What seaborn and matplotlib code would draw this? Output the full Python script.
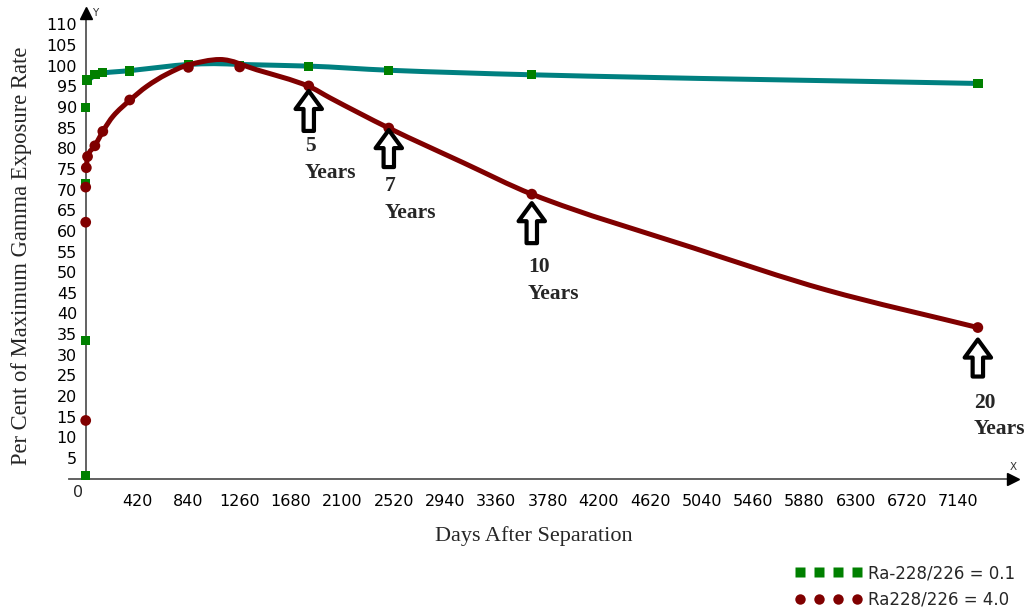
import numpy as np
import matplotlib
matplotlib.use("Agg")
import matplotlib.pyplot as plt
from matplotlib.path import Path
from matplotlib.patches import PathPatch
from matplotlib.lines import Line2D
import seaborn as sns

# ---- measured exposure rates (days after separation, % of maximum) ----
low_days = [0, 0, 0, 0, 10, 75, 140, 360, 840, 1260, 1825, 2480, 3650, 7300]
low_rate = [0.7, 33.5, 71.5, 89.8, 96.5, 97.9, 98.3, 98.7, 100.3, 100.0, 99.8, 98.9, 97.8, 95.7]

high_days = [0, 0, 0, 5, 15, 75, 140, 360, 840, 1260, 1825, 2480, 3650, 7300]
high_rate = [14.1, 62.1, 70.6, 75.3, 78.0, 80.6, 84.1, 91.7, 99.6, 99.7, 95.1, 84.9, 68.9, 36.6]

# ---- trend curves drawn through the measurements ----
low_fit_days = [10, 75, 140, 360, 630, 840, 1050, 1260, 1825, 2480, 3650, 7300]
low_fit_rate = [96.3, 97.6, 98.2, 98.8, 99.7, 100.3, 100.5, 100.3, 99.9, 98.9, 97.8, 95.7]

high_fit_days = [5, 15, 75, 140, 225, 360, 500, 660, 840, 1100, 1400, 1825,
                 2000, 2480, 3090, 3650, 4970, 6060, 7300]
high_fit_rate = [75.3, 78.0, 80.6, 84.1, 87.8, 91.6, 95.0, 97.9, 100.2, 101.5, 99.0, 95.0,
                 92.2, 84.9, 76.5, 68.9, 55.9, 45.7, 36.6]

# ---- axis ticks ----
x_ticks = [420, 840, 1260, 1680, 2100, 2520, 2940, 3360, 3780, 4200, 4620, 5040,
           5460, 5880, 6300, 6720, 7140]
y_ticks = [5, 10, 15, 20, 25, 30, 35, 40, 45, 50, 55, 60, 65, 70, 75, 80, 85, 90,
           95, 100, 105, 110]

# ---- age markers ----
age_days = [1825, 2480, 3650, 7300]
age_labels = ["5\nYears", "7\nYears", "10\nYears", "20\nYears"]

GREEN = "#008000"
TEAL = "#008080"
MAROON = "#800000"
AXIS = "#555555"

sns.set_style("white")
plt.rcParams["font.family"] = ["DejaVu Sans"]
SERIF = "Liberation Serif"


def smooth_path(xs, ys):
    """Monotone cubic (PCHIP-style) curve through the knots as Bezier segments."""
    x = np.asarray(xs, float)
    y = np.asarray(ys, float)
    h = np.diff(x)
    d = np.diff(y) / h
    m = np.zeros_like(x)
    m[0], m[-1] = d[0], d[-1]
    for k in range(1, len(x) - 1):
        if d[k - 1] * d[k] > 0:
            w1 = 2 * h[k] + h[k - 1]
            w2 = h[k] + 2 * h[k - 1]
            m[k] = (w1 + w2) / (w1 / d[k - 1] + w2 / d[k])
    verts = [(x[0], y[0])]
    codes = [Path.MOVETO]
    for k in range(len(x) - 1):
        verts += [(x[k] + h[k] / 3, y[k] + m[k] * h[k] / 3),
                  (x[k + 1] - h[k] / 3, y[k + 1] - m[k + 1] * h[k] / 3),
                  (x[k + 1], y[k + 1])]
        codes += [Path.CURVE4] * 3
    return Path(verts, codes)


fig = plt.figure(figsize=(10.28, 6.10), dpi=100)
ax = fig.add_axes([0.06673, 0.2051, 0.9249, 0.7786])
ax.set_xlim(-140, 7640)
ax.set_ylim(-1.5, 113.5)

# trend lines and measurement markers
ax.add_patch(PathPatch(smooth_path(low_fit_days, low_fit_rate), fill=False,
                       edgecolor=TEAL, lw=3.6, capstyle="round", zorder=2))
sns.scatterplot(x=low_days, y=low_rate, marker="s", s=45, color=GREEN,
                edgecolor="none", linewidth=0, zorder=3, clip_on=False, ax=ax)
ax.add_patch(PathPatch(smooth_path(high_fit_days, high_fit_rate), fill=False,
                       edgecolor=MAROON, lw=3.6, capstyle="round", zorder=4))
sns.scatterplot(x=high_days, y=high_rate, marker="o", s=60, color=MAROON,
                edgecolor="none", linewidth=0, zorder=5, clip_on=False, ax=ax)

# axes drawn through the origin with arrow heads
for side in ["top", "right"]:
    ax.spines[side].set_visible(False)
ax.spines["left"].set_position(("data", 0))
ax.spines["bottom"].set_position(("data", 0))
ax.spines["left"].set_bounds(0, 112.7)
ax.spines["bottom"].set_bounds(-140, 7585)
for s in ["left", "bottom"]:
    ax.spines[s].set_color(AXIS)
    ax.spines[s].set_linewidth(1.3)
ax.plot([7585], [0], marker=">", ms=8, color="black", clip_on=False, zorder=6)
ax.plot([0], [112.7], marker="^", ms=8, color="black", clip_on=False, zorder=6)
fig.text(95 / 1028, 1 - 13 / 610, "Y", ha="center", va="center", fontsize=7.5, color="#333333")
fig.text(1013 / 1028, 1 - 467 / 610, "X", ha="center", va="center", fontsize=7.5, color="#333333")

ax.set_xticks(x_ticks)
ax.set_xticklabels([str(t) for t in x_ticks])
ax.set_yticks(y_ticks)
ax.set_yticklabels([str(t) for t in y_ticks])
ax.tick_params(axis="x", direction="inout", length=6, width=1, color=AXIS,
               pad=8, labelsize=11.5, labelcolor="black")
ax.tick_params(axis="y", direction="inout", length=7.5, width=1, color=AXIS,
               pad=2.5, labelsize=11.5, labelcolor="black")
ax.annotate("0", xy=(0, 0), xytext=(-2, -4.5), textcoords="offset points",
            ha="right", va="top", fontsize=11.5)

ax.set_xlabel("Days After Separation", family=SERIF, fontsize=16)
ax.xaxis.set_label_coords(0.489, -0.1076)
ax.xaxis.label.set_va("center")
ax.set_ylabel("Per Cent of Maximum Gamma Exposure Rate", family=SERIF, fontsize=16.3)
ax.yaxis.set_label_coords(-0.0494, 0.482)
ax.yaxis.label.set_va("center")

# hollow arrows pointing at the ages
rate_at = dict(zip(high_days, high_rate))
tip_gap = [5, 2, 9, 12]
tail_gap = [45, 39, 49, 49]
label_gap = [50, 48, 63, 65]
px = 0.72
for day, text, tg, tl, lg in zip(age_days, age_labels, tip_gap, tail_gap, label_gap):
    val = rate_at[day]
    ax.annotate("", xy=(day, val), xytext=(0, -tl * px), textcoords="offset points",
                arrowprops=dict(arrowstyle="simple,head_length=13,head_width=19,tail_width=7.5",
                                mutation_scale=1, fc="white", ec="black", lw=3.0,
                                shrinkA=0, shrinkB=tg * px),
                zorder=6)
    ax.annotate(text, xy=(day, val), xytext=(-4 * px, -lg * px), textcoords="offset points",
                ha="left", va="top", family=SERIF, weight="bold", fontsize=15.5,
                linespacing=1.45, zorder=6)

# legend with a row of four markers per series
handles = [Line2D([], [], ls="none", marker="s", ms=6.5, color=GREEN, mec="none"),
           Line2D([], [], ls="none", marker="o", ms=7.5, color=MAROON, mec="none")]
fig.legend(handles, ["Ra-228/226 = 0.1", "Ra228/226 = 4.0"], numpoints=4,
           handlelength=4.0, handletextpad=0.35, labelspacing=0.5, frameon=False,
           borderpad=0, borderaxespad=0, loc="upper left",
           bbox_to_anchor=(795 / 1028, 1 - 564 / 610), prop={"family": "DejaVu Sans", "size": 12})

fig.savefig("out.png", dpi=100, facecolor="white")
